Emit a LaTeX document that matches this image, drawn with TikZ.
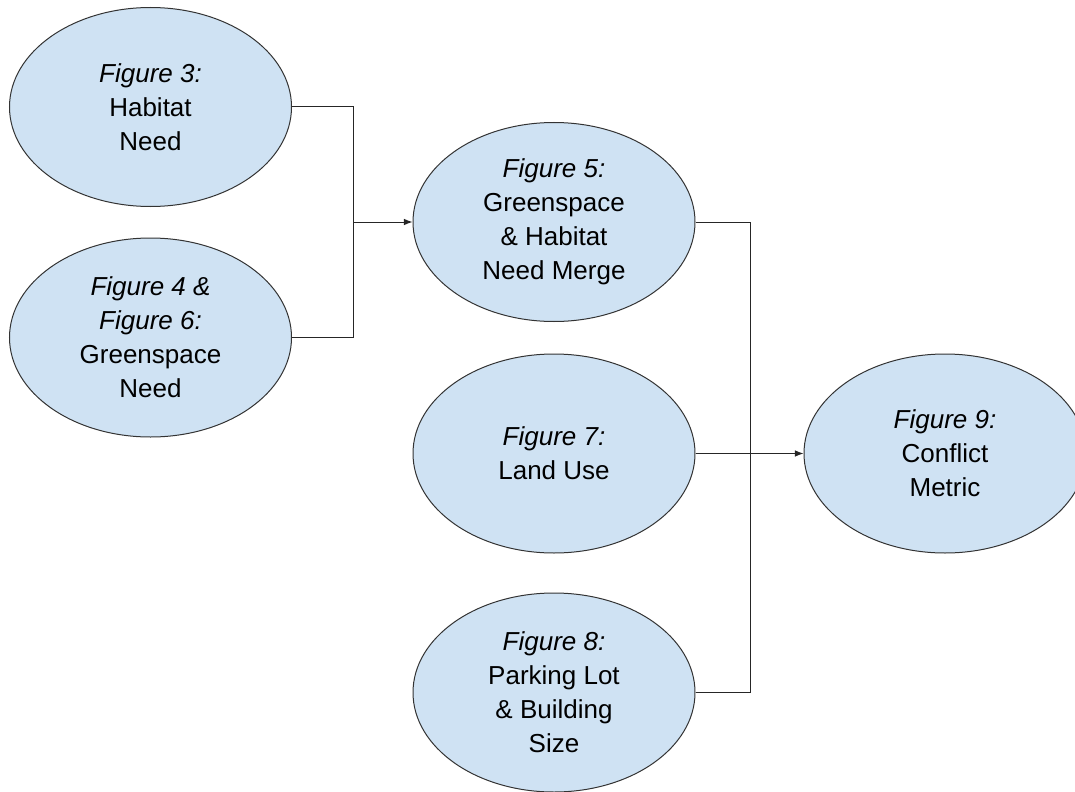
\documentclass[tikz,border=0pt]{standalone}
\usepackage{fontspec}
\setmainfont{Liberation Sans}
\usetikzlibrary{shapes.geometric,arrows.meta}
\definecolor{fillblue}{HTML}{CFE2F3}
\definecolor{edgegray}{HTML}{333333}
\tikzset{
  fig/.style={ellipse, draw=edgegray, fill=fillblue, line width=0.75pt,
    minimum width=211.5pt, minimum height=149.25pt, inner sep=0pt,
    align=center, font=\fontsize{19.5}{25.5}\selectfont},
  conn/.style={draw=black!85, line width=0.75pt},
  arr/.style={conn, -{Latex[length=6.5pt,width=5pt]}}
}
\begin{document}
\begin{tikzpicture}[x=0.75pt,y=-0.75pt]
\useasboundingbox (0,0) rectangle (1075,792);
\clip (0,0) rectangle (1075,792);
\fill[white] (0,0) rectangle (1075,792);
\node[fig] (e1) at (150.5,107) {\textit{Figure 3:}\\Habitat\\Need};
\node[fig] (e2) at (150.5,337.5) {\textit{Figure 4 \&}\\\textit{Figure 6:}\\Greenspace\\Need};
\node[fig] (e3) at (554,222) {\textit{Figure 5:}\\Greenspace\\\& Habitat\\Need Merge};
\node[fig] (e4) at (554,453.5) {\textit{Figure 7:}\\Land Use};
\node[fig] (e5) at (554,692.5) {\textit{Figure 8:}\\Parking Lot\\\& Building\\Size};
\node[fig] (e9) at (945,453.5) {\textit{Figure 9:}\\Conflict\\Metric};
\coordinate (j1) at (353,222);
\coordinate (j2) at (750,453.5);
\draw[conn] (e1.east) -| (j1);
\draw[conn] (e2.east) -| (j1);
\draw[arr] (j1) -- (e3.west);
\draw[conn] (e3.east) -| (j2);
\draw[conn] (e5.east) -| (j2);
\draw[arr] (e4.east) -- (e9.west);
\end{tikzpicture}
\end{document}
